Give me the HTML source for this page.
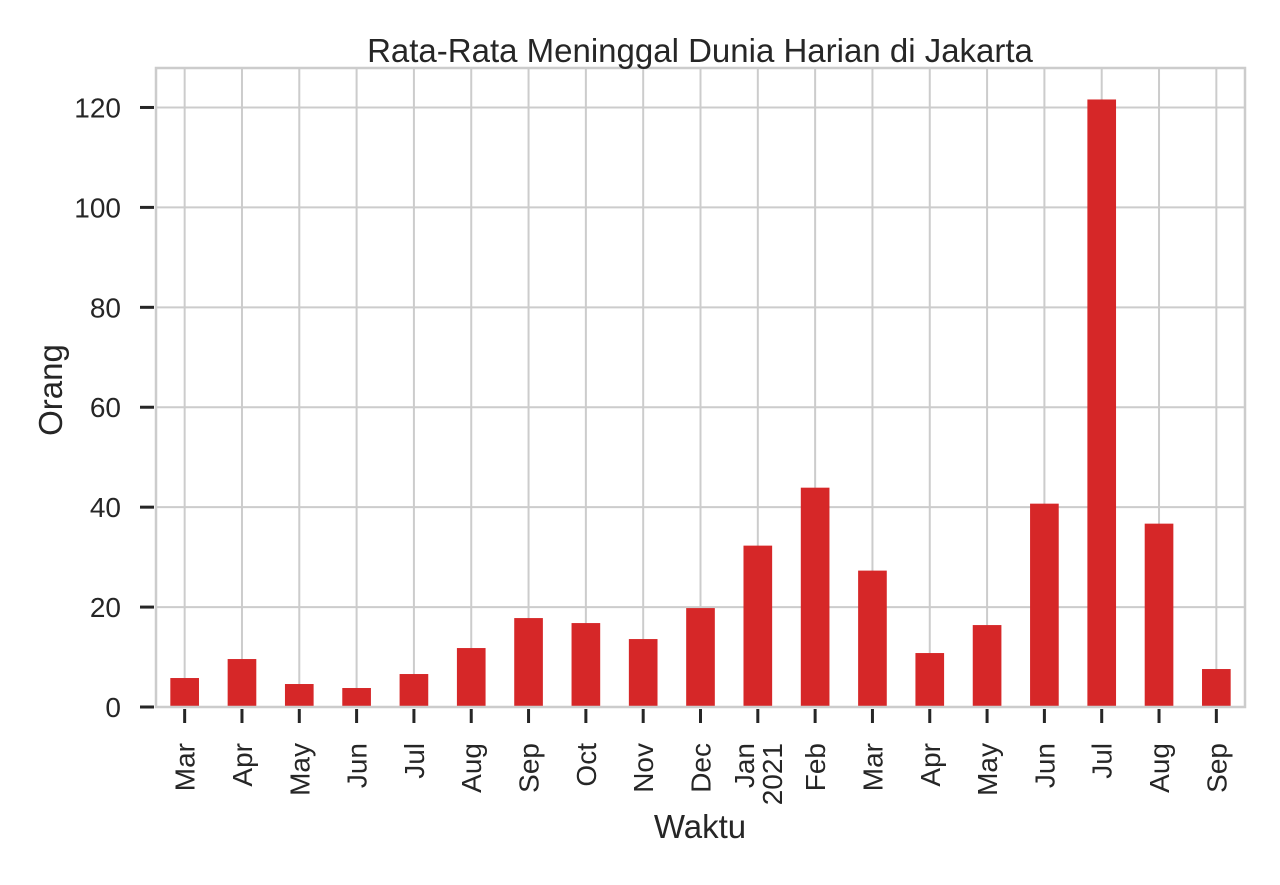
<!DOCTYPE html>
<html><head><meta charset="utf-8"><style>
body{margin:0;background:#fff;}
svg text{font-family:"Liberation Sans",sans-serif;fill:#262626;}
</style></head><body>
<svg width="1280" height="880" id="chart">
<rect width="1280" height="880" fill="#fff"/>
</svg>
<script>
const categories=["Mar","Apr","May","Jun","Jul","Aug","Sep","Oct","Nov","Dec","Jan\n2021","Feb","Mar","Apr","May","Jun","Jul","Aug","Sep"];
const values=[5.8,9.6,4.6,3.8,6.6,11.8,17.8,16.8,13.6,19.8,32.3,43.9,27.3,10.8,16.4,40.7,121.6,36.7,7.6];
const yTicks=[0,20,40,60,80,100,120];
const L=156,R=1245,T=68,B=707,yMax=127.9;
const svg=document.getElementById('chart');
const NS='http://www.w3.org/2000/svg';
const xs=i=>L+(i+0.5)*(R-L)/categories.length;
const ys=v=>B-v*(B-T)/yMax;
const bw=0.5*(R-L)/categories.length;
function mk(t,a,p){const e=document.createElementNS(NS,t);for(const k in a)e.setAttribute(k,a[k]);(p||svg).appendChild(e);return e;}
const grid=mk('g',{});


yTicks.forEach(v=>{mk('line',{x1:L,x2:R,y1:ys(v),y2:ys(v),stroke:'#cccccc','stroke-width':2},grid);});
categories.forEach((c,i)=>{mk('line',{x1:xs(i),x2:xs(i),y1:T,y2:B,stroke:'#cccccc','stroke-width':2},grid);});
const bars=mk('g',{});


values.forEach((v,i)=>{const r=mk('rect',{x:xs(i)-bw/2,y:ys(v),width:bw,height:B-ys(v),fill:'#d62728'},bars);

});
const fr=mk('rect',{x:L,y:T,width:R-L,height:B-T,fill:'none',stroke:'#cccccc','stroke-width':2.5});


const ya=mk('g',{});


yTicks.forEach(v=>{mk('line',{x1:L-16,x2:L-2,y1:ys(v),y2:ys(v),stroke:'#262626','stroke-width':3},ya);
const t=mk('text',{x:L-35,y:ys(v)+10,'text-anchor':'end','font-size':28},ya);t.textContent=v;});
const xa=mk('g',{});


categories.forEach((c,i)=>{const x=xs(i);mk('line',{x1:x,x2:x,y1:B+2,y2:B+16,stroke:'#262626','stroke-width':3},xa);
const lines=c.split('\n');
lines.forEach((s,j)=>{const off=(j-(lines.length-1)/2)*28;
const t=mk('text',{x:0,y:0,'text-anchor':'end','font-size':28,transform:`translate(${x+10+off},${B+36}) rotate(-90)`},xa);t.textContent=s;});});
let t=mk('text',{x:700,y:62,'text-anchor':'middle','font-size':33});t.textContent='Rata-Rata Meninggal Dunia Harian di Jakarta';


t=mk('text',{x:700,y:838,'text-anchor':'middle','font-size':33});t.textContent='Waktu';


t=mk('text',{x:0,y:0,'text-anchor':'middle','font-size':33,transform:'translate(62,390) rotate(-90)'});t.textContent='Orang';


</script>
</body></html>
